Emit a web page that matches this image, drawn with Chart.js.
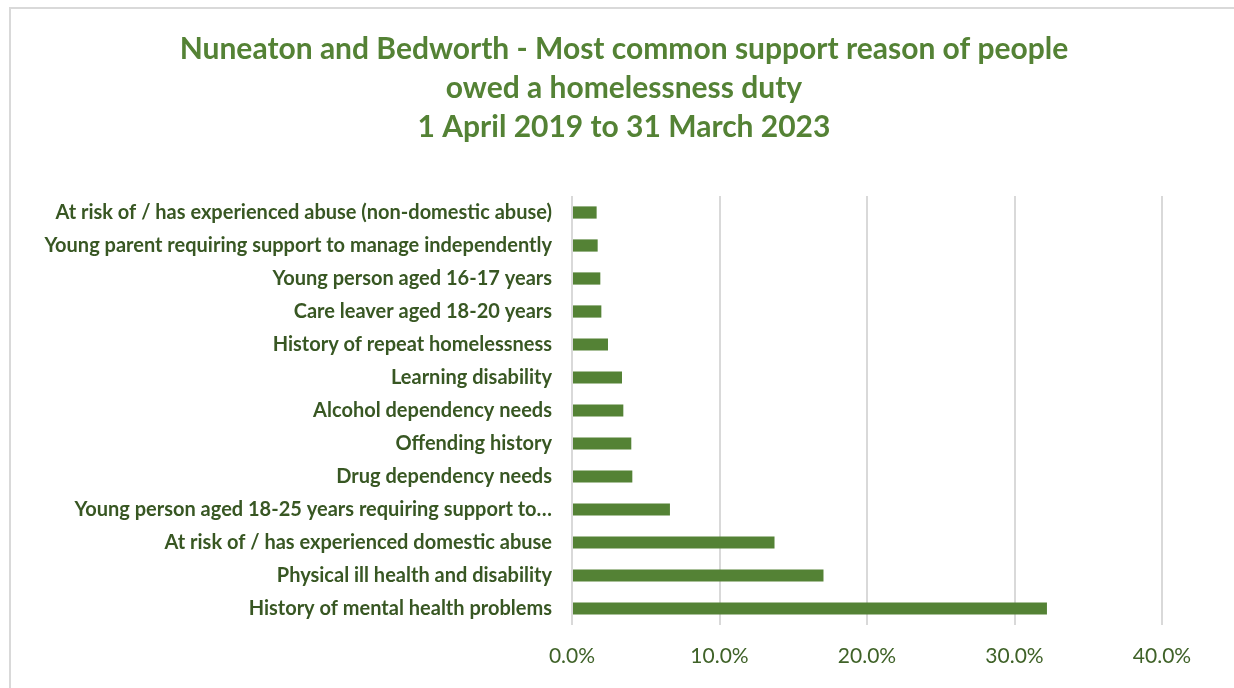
<!DOCTYPE html>
<html lang="en">
<head>
<meta charset="utf-8">
<title>Nuneaton and Bedworth - Most common support reason</title>
<script src="https://cdn.jsdelivr.net/npm/chart.js@4/dist/chart.umd.min.js"></script>
<style>
  html, body { margin: 0; padding: 0; background: #ffffff; overflow: hidden; }
  #frame {
    position: absolute; left: 9px; top: 7px;
    width: 1240px; height: 700px;
    border: 2px solid #d9d9d9; box-sizing: border-box;
  }
  #wrap { position: absolute; left: 0; top: 0; width: 1234px; height: 688px; }
</style>
</head>
<body>
<div id="frame"></div>
<div id="wrap"><canvas id="chart" width="1234" height="688"></canvas></div>
<script>
// Support reasons, listed top to bottom
const reasons = [
  "At risk of / has experienced abuse (non-domestic abuse)",
  "Young parent requiring support to manage independently",
  "Young person aged 16-17 years",
  "Care leaver aged 18-20 years",
  "History of repeat homelessness",
  "Learning disability",
  "Alcohol dependency needs",
  "Offending history",
  "Drug dependency needs",
  "Young person aged 18-25 years requiring support to manage independently",
  "At risk of / has experienced domestic abuse",
  "Physical ill health and disability",
  "History of mental health problems"
];

// Share of people owed a duty (%)
const shares = [1.67, 1.74, 1.92, 1.99, 2.44, 3.39, 3.48, 4.02, 4.09, 6.64, 13.73, 17.05, 32.2];

const titleLines = [
  "Nuneaton and Bedworth - Most common support reason of people",
  "owed a homelessness duty",
  "1 April 2019 to 31 March 2023"
];

const axisMax = 40;
const axisStep = 10;

function shortLabel(text) {
  return text.length > 60 ? text.slice(0, 50) + "\u2026" : text;
}

// Centre the title over the frame rather than over the full canvas width
const titleCentring = {
  id: "titleCentring",
  afterLayout(chart) {
    const t = chart.titleBlock;
    if (t) { t.left = 86; t.width = t.right - t.left; }
  }
};

new Chart(document.getElementById("chart"), {
  type: "bar",
  data: {
    labels: reasons,
    datasets: [{
      data: shares,
      backgroundColor: "#548235",
      borderWidth: 0,
      barPercentage: 0.37,
      categoryPercentage: 1
    }]
  },
  plugins: [titleCentring],
  options: {
    indexAxis: "y",
    responsive: false,
    animation: false,
    layout: { padding: { left: 0, right: 72, top: 0, bottom: 0 } },
    plugins: {
      legend: { display: false },
      tooltip: { enabled: false },
      title: {
        display: true,
        text: titleLines,
        color: "#548235",
        font: { family: "Lato", size: 30, weight: "bold", lineHeight: 1.3 },
        padding: { top: 30, bottom: 49 }
      }
    },
    scales: {
      x: {
        min: 0,
        max: axisMax,
        ticks: {
          stepSize: axisStep,
          padding: 19,
          color: "#3f6228",
          font: { family: "Lato", size: 21 },
          callback: v => v.toFixed(1) + "%"
        },
        grid: { color: "#d9d9d9", lineWidth: 2, drawTicks: false },
        border: { display: false },
        afterFit: s => { s.height = 63; }
      },
      y: {
        ticks: {
          padding: 20,
          color: "#385723",
          font: { family: "Lato", size: 20, weight: "bold" },
          callback: function (v) { return shortLabel(this.getLabelForValue(v)); }
        },
        grid: { display: false, drawTicks: false },
        border: { display: false },
        afterFit: s => { s.width = 572; }
      }
    }
  }
});
</script>
</body>
</html>
